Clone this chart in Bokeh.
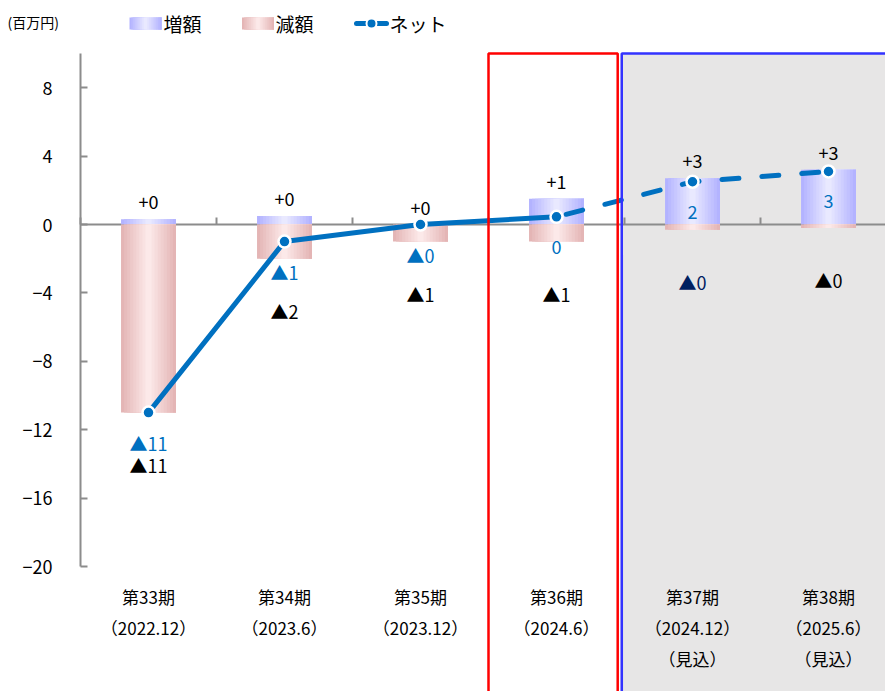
import numpy as np
from bokeh.plotting import figure
from bokeh.models import Range1d, FixedTicker, LinearAxis, BoxAnnotation, ColumnDataSource
from bokeh.core.properties import value
from bokeh.embed import file_html
from bokeh.resources import INLINE

# ---------------- data ----------------
categories = ["第33期\n（2022.12）", "第34期\n（2023.6）", "第35期\n（2023.12）",
              "第36期\n（2024.6）", "第37期\n（2024.12）\n（見込）", "第38期\n（2025.6）\n（見込）"]
increase = [0.3, 0.5, 0.0, 1.5, 2.7, 3.2]
decrease = [-11.0, -2.0, -1.0, -1.0, -0.3, -0.2]
net = [-11.0, -1.0, 0.0, 0.45, 2.5, 3.1]
increase_labels = ["+0", "+0", "+0", "+1", "+3", "+3"]
decrease_labels = ["▲11", "▲2", "▲1", "▲1", "▲0", "▲0"]
net_labels = ["▲11", "▲1", "▲0", "0", "2", "3"]
y_ticks = [-20, -16, -12, -8, -4, 0, 4, 8]
y_top = 10
current_index = 3      # 第36期 (red frame)
forecast_start = 4     # 第37期 onwards (forecast)
unit_label = "(百万円)"
legend_names = ["増額", "減額", "ネット"]

# ---------------- style ----------------
FONT = value("Noto Sans CJK JP")
BLUE = "#0070c0"
AXIS = "#8c8c8c"
BAR_W = 0.404
N_STRIP = 18
dec_label_colors = ["#000000"] * len(categories)
dec_label_colors[4] = "#002060"

W, H = 885, 691
LEFT = 80              # pixel column of the value axis
PX_PER_CAT = 136.0
PX_PER_UNIT = 17.1
ZERO_PX = 224          # pixel row of value 0

x = np.arange(len(categories))


def mix(c1, c2, t):
    return "#%02x%02x%02x" % tuple(int(round(a + (b - a) * t)) for a, b in zip(c1, c2))


def gradient_strips(centers, lows, highs, width, edge, mid, n=N_STRIP):
    L, R, B, T, C = [], [], [], [], []
    for c, lo, hi in zip(centers, lows, highs):
        left = c - width / 2
        for k in range(n):
            l = left + k * width / n
            t = abs((k + 0.5) / n * 2 - 1)
            L.append(l); R.append(left + width); B.append(lo); T.append(hi)
            C.append(mix(mid, edge, t))
    return dict(left=L, right=R, bottom=B, top=T, color=C)


BLUE_EDGE, BLUE_MID = (176, 176, 255), (236, 236, 255)
PINK_EDGE, PINK_MID = (227, 178, 178), (253, 236, 236)

# ---------------- figure (frame covers the whole canvas) ----------------
x0 = -0.5
p = figure(width=W, height=H,
           x_range=Range1d(x0 - LEFT / PX_PER_CAT, x0 + (W - LEFT) / PX_PER_CAT),
           y_range=Range1d(-(H - ZERO_PX) / PX_PER_UNIT, ZERO_PX / PX_PER_UNIT),
           output_backend="svg", toolbar_location=None,
           min_border=0, x_axis_location=None, y_axis_location=None)
p.xgrid.visible = False
p.ygrid.visible = False
p.outline_line_color = None
# pixel coordinate system for the legend strip
p.extra_x_ranges = {"px": Range1d(0, W)}
p.extra_y_ranges = {"px": Range1d(H, 0)}

# forecast region (gray) + frames
p.add_layout(BoxAnnotation(left=forecast_start - 0.5 - 0.03, top=y_top, bottom=-40,
                           fill_color="#e7e6e6", fill_alpha=1, line_color=None, level="image"))
p.add_layout(BoxAnnotation(left=current_index - 0.5, right=forecast_start - 0.5 - 0.05,
                           top=y_top, bottom=-40,
                           fill_color=None, fill_alpha=0, line_color="#ff0000", line_alpha=1,
                           line_width=2.5, level="overlay"))
p.add_layout(BoxAnnotation(left=forecast_start - 0.5 - 0.02, right=10, top=y_top, bottom=-40,
                           fill_color=None, fill_alpha=0, line_color="#3333ff", line_alpha=1,
                           line_width=2.5, level="overlay"))

# value axis, fixed at the left category boundary
ya = LinearAxis(fixed_location=x0, ticker=FixedTicker(ticks=y_ticks),
                bounds=(y_ticks[0], y_top),
                major_label_overrides={t: str(t).replace("-", "−") for t in y_ticks},
                axis_line_color=AXIS, axis_line_width=2,
                major_tick_line_color=AXIS, major_tick_line_width=2,
                major_tick_in=7, major_tick_out=0, minor_tick_line_color=None,
                major_label_standoff=28, major_label_text_font="Noto Sans CJK JP",
                major_label_text_font_size="18px", major_label_text_color="#000000")
p.add_layout(ya, "left")

# category axis crossing at zero (category boundaries as ticks, no labels)
bounds_ticks = [i - 0.5 for i in range(len(categories) + 1)]
xa = LinearAxis(fixed_location=0, bounds=(x0, 10),
                ticker=FixedTicker(ticks=bounds_ticks),
                major_label_overrides={t: "" for t in bounds_ticks},
                major_tick_in=7, major_tick_out=0, major_label_standoff=0,
                axis_line_color=AXIS, axis_line_width=2,
                major_tick_line_color=AXIS, major_tick_line_width=2,
                minor_tick_line_color=None, level="underlay")
p.add_layout(xa, "below")

# bars (gradient)
zeros = [0] * len(categories)
inc_src = ColumnDataSource(gradient_strips(x, zeros, increase, BAR_W, BLUE_EDGE, BLUE_MID))
dec_src = ColumnDataSource(gradient_strips(x, decrease, zeros, BAR_W, PINK_EDGE, PINK_MID))
p.quad(left="left", right="right", bottom="bottom", top="top", fill_color="color",
       line_color=None, source=inc_src)
p.quad(left="left", right="right", bottom="bottom", top="top", fill_color="color",
       line_color=None, source=dec_src)

# net line
p.line(x[:forecast_start], net[:forecast_start], line_color=BLUE, line_width=5, line_cap="round",
       line_join="round")
p.line(x[forecast_start - 1:], net[forecast_start - 1:], line_color=BLUE, line_width=5,
       line_cap="round", line_dash="17 23", line_dash_offset=-10)
p.scatter(x, net, size=12, marker="circle", fill_color=BLUE, line_color="white", line_width=2.5)

# labels
lab = ColumnDataSource(dict(x=x, inc=increase, dec=decrease, net=net,
                            inc_t=increase_labels, dec_t=decrease_labels, net_t=net_labels,
                            dec_c=dec_label_colors, cat=categories,
                            base=[y_ticks[0]] * len(categories)))
p.text(x="x", y="inc", text="inc_t", source=lab, text_align="center", text_baseline="bottom",
       y_offset=-10, text_font=FONT, text_font_size="18px", text_color="#000000")
p.text(x="x", y="net", text="net_t", source=lab, text_align="center", text_baseline="middle",
       y_offset=30, text_font=FONT, text_font_size="18px", text_color=BLUE)
p.text(x="x", y="dec", text="dec_t", source=lab, text_align="center", text_baseline="middle",
       y_offset=52, text_font=FONT, text_font_size="18px", text_color="dec_c")
p.text(x="x", y="base", text="cat", source=lab, text_align="center", text_baseline="top",
       y_offset=17, text_font=FONT, text_font_size="17px", text_color="#000000",
       text_line_height=1.24)

# ---------------- legend strip (pixel coordinates) ----------------
PX = dict(x_range_name="px", y_range_name="px")
p.text(x=[7], y=[21], text=[unit_label], text_font=FONT, text_font_size="14px",
       text_baseline="middle", text_color="#000000", **PX)
sw_blue = gradient_strips([145], [17], [29], 32, BLUE_EDGE, BLUE_MID)
sw_pink = gradient_strips([257.5], [17], [29], 32, PINK_EDGE, PINK_MID)
p.quad(left="left", right="right", bottom="bottom", top="top", fill_color="color",
       line_color=None, source=ColumnDataSource(sw_blue), **PX)
p.quad(left="left", right="right", bottom="bottom", top="top", fill_color="color",
       line_color=None, source=ColumnDataSource(sw_pink), **PX)
p.line([356, 386], [23, 23], line_color=BLUE, line_width=5, line_cap="round", **PX)
p.scatter([371], [23], size=10, marker="circle", fill_color=BLUE, line_color="white",
          line_width=2, **PX)
p.text(x=[163, 275, 389], y=[23, 23, 23], text=legend_names, text_font=FONT,
       text_font_size="19px", text_baseline="middle", text_color="#000000", **PX)

open("out.html", "w").write(file_html(p, INLINE))
